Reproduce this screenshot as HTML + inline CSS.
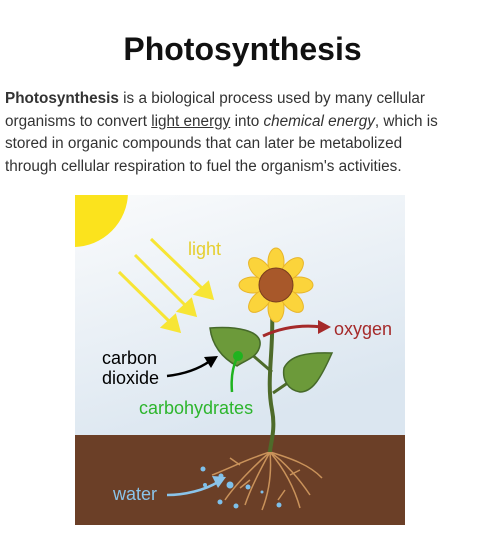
<!DOCTYPE html>
<html><head><meta charset="utf-8"><style>
body{margin:0;width:485px;height:544px;background:#fff;font-family:"Liberation Sans",sans-serif;position:relative;overflow:hidden}
h1{position:absolute;left:0;width:485px;top:31px;margin:0;text-align:center;font-size:32px;font-weight:bold;color:#111;letter-spacing:0px}
p{position:absolute;left:5px;top:88px;width:442px;margin:0;font-size:15.3px;line-height:22.5px;color:#333}
u{text-decoration:underline}
svg{position:absolute;left:0;top:0}
</style></head><body>
<h1>Photosynthesis</h1>
<p><b>Photosynthesis</b> is a biological process used by many cellular organisms to convert <u>light energy</u> into <i>chemical energy</i>, which is stored in organic compounds that can later be metabolized through cellular respiration to fuel the organism's activities.</p>
<svg width="485" height="544">
<defs>
<linearGradient id="sky" x1="0" y1="0" x2="0.4" y2="1"><stop offset="0" stop-color="#fafbfc"/><stop offset="1" stop-color="#dbe6f0"/></linearGradient>
<clipPath id="cp"><rect x="75" y="195" width="330" height="330"/></clipPath>
</defs>
<g clip-path="url(#cp)">
<rect x="75" y="195" width="330" height="240" fill="url(#sky)"/>
<circle cx="73" cy="192" r="55" fill="#fbe31d"/>
<rect x="75" y="435" width="330" height="90" fill="#6b3f27"/>
</g>
<g stroke="#f7e535" stroke-width="3" fill="#f7e535">
<line x1="151" y1="239" x2="205" y2="291"/><path d="M212,298L196,294L208,283z"/>
<line x1="135" y1="255" x2="188" y2="308"/><path d="M195,315L179,311L191,300z"/>
<line x1="119" y1="272" x2="172" y2="324"/><path d="M179,331L163,327L175,316z"/>
</g>
<text x="188" y="255" font-size="18" fill="#e5cf30">light</text>
<g stroke="#c9925a" stroke-width="1.5" fill="none">
<path d="M270,452C250,458 230,468 212,475"/><path d="M270,452C260,470 250,490 245,505"/><path d="M270,452C272,475 268,495 262,510"/><path d="M270,452C285,470 295,490 300,508"/><path d="M270,452C290,458 310,465 322,478"/><path d="M270,452C255,465 235,485 225,500"/><path d="M270,452C285,462 300,480 310,495"/><path d="M240,465L230,458M250,480L240,488M290,475L300,470M285,490L278,500"/>
</g>
<g fill="#7ec0ea">
<circle cx="203" cy="469" r="2.5"/><circle cx="221" cy="476" r="2.5"/><circle cx="230" cy="485" r="3.5"/><circle cx="248" cy="487" r="2.5"/><circle cx="220" cy="502" r="2.5"/><circle cx="236" cy="506" r="2.5"/><circle cx="262" cy="492" r="1.5"/><circle cx="279" cy="505" r="2.5"/><circle cx="205" cy="485" r="2"/>
</g>
<path d="M272,310C274,350 266,380 272,410C276,430 270,445 270,452" stroke="#4e6b2a" stroke-width="4" fill="none"/>
<path d="M250,353L272,372M292,380L273,393" stroke="#4e6b2a" stroke-width="3" fill="none"/>
<path d="M210,328C235,326 262,330 260,345C258,358 245,360 237,366C222,358 212,345 210,328z" fill="#6c9a3a" stroke="#46692a" stroke-width="1.5"/>
<path d="M332,353C320,380 312,392 300,392C288,390 282,380 284,368C290,356 305,352 332,353z" fill="#6c9a3a" stroke="#46692a" stroke-width="1.5"/>
<g>
<g fill="#fbd43b" stroke="#e8b52a" stroke-width="1">
<ellipse cx="276" cy="262" rx="8" ry="14"/><ellipse cx="276" cy="308" rx="8" ry="14"/><ellipse cx="253" cy="285" rx="14" ry="8"/><ellipse cx="299" cy="285" rx="14" ry="8"/>
<ellipse cx="260" cy="269" rx="8" ry="14" transform="rotate(-45 260 269)"/><ellipse cx="292" cy="301" rx="8" ry="14" transform="rotate(-45 292 301)"/><ellipse cx="292" cy="269" rx="8" ry="14" transform="rotate(45 292 269)"/><ellipse cx="260" cy="301" rx="8" ry="14" transform="rotate(45 260 301)"/>
</g>
<circle cx="276" cy="285" r="17" fill="#a8582a" stroke="#7a3e1e"/>
</g>
<path d="M263,336C285,326 305,325 322,327" stroke="#a52a2a" stroke-width="3" fill="none"/><path d="M331,327L318,320L318,334z" fill="#a52a2a"/>
<text x="334" y="335" font-size="18" fill="#a52a2a">oxygen</text>
<circle cx="238" cy="356" r="5" fill="#1fb31f"/><path d="M237,358C232,368 231,380 232,392" stroke="#1fb31f" stroke-width="2.5" fill="none"/>
<text x="139" y="414" font-size="18" fill="#2db52d">carbohydrates</text>
<text x="102" y="364" font-size="18" fill="#000">carbon</text>
<text x="102" y="384" font-size="18" fill="#000">dioxide</text>
<path d="M167,376C185,374 200,368 210,361" stroke="#000" stroke-width="2.5" fill="none"/><path d="M218,356L204,357L211,368z" fill="#000"/>
<text x="113" y="500" font-size="18" fill="#8ac4ea">water</text>
<path d="M167,495C185,495 205,490 218,482" stroke="#8ac4ea" stroke-width="2.5" fill="none"/><path d="M226,477L212,476L218,488z" fill="#8ac4ea"/>
</svg>
</body></html>
